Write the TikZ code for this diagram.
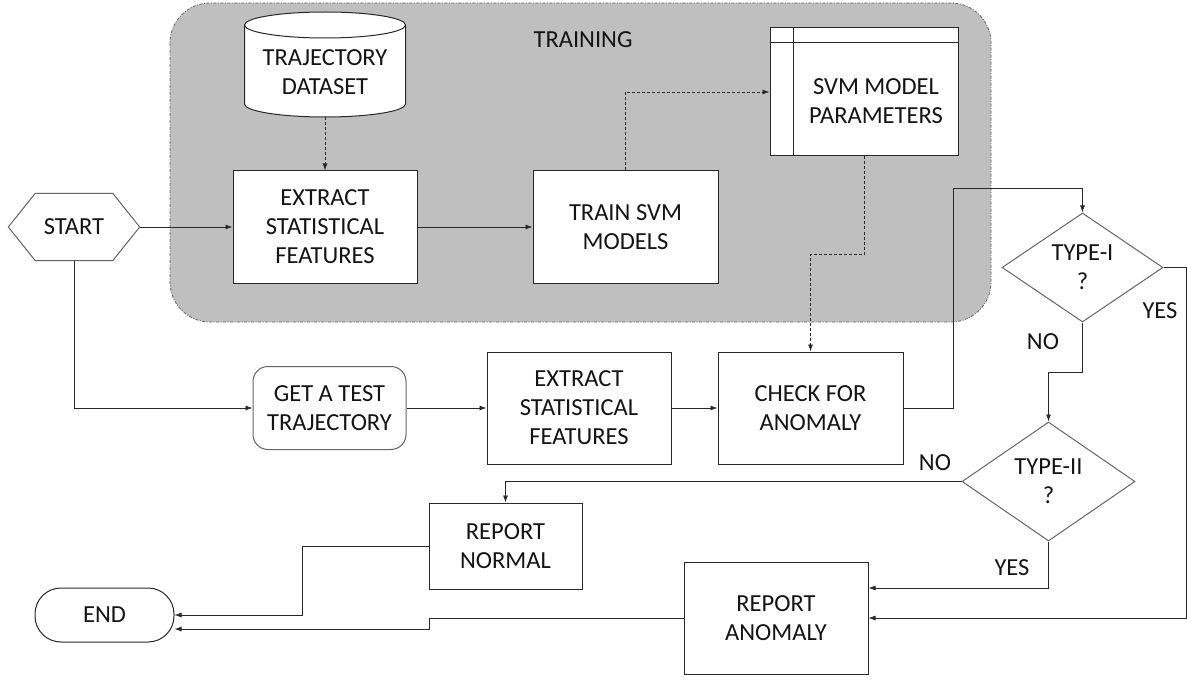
\documentclass[tikz,border=0pt]{standalone}
\usepackage{fontspec}
\setmainfont{Carlito}
\usetikzlibrary{arrows.meta,shapes.geometric}
\definecolor{traingray}{RGB}{191,191,191}
\definecolor{linec}{RGB}{40,40,40}
\definecolor{dgray}{RGB}{100,100,100}
\tikzset{
  lbl/.style={font=\fontsize{24.5}{29}\selectfont, text=black!92, align=center, inner sep=0pt},
  box/.style={lbl, draw=linec, line width=1pt, fill=white, rectangle},
  dia/.style={lbl, draw=dgray, line width=1pt, fill=white, diamond, aspect=1.45, inner sep=0pt},
  arr/.style={draw=linec, line width=0.8pt, -{Latex[length=7pt,width=5pt]}},
  darr/.style={arr, dash pattern=on 3pt off 2pt},
  plain/.style={draw=linec, line width=0.8pt},
}
\begin{document}
\begin{tikzpicture}[x=1pt,y=1pt]
\useasboundingbox (0,0) rectangle (1187,-682);
% training region
\draw[fill=traingray, draw=dgray, line width=0.8pt, rounded corners=40pt,
  dash pattern=on 3pt off 1.5pt on 1pt off 1.5pt] (170,-3) rectangle (991,-322);
\node[lbl] (trn) at (583,-40) {TRAINING};
% cylinder
\draw[fill=white, draw=linec, line width=1pt] (244.5,-25) -- (244.5,-104)
  arc[start angle=180, end angle=360, x radius=80.5, y radius=13] -- (405.5,-25)
  arc[start angle=0, end angle=180, x radius=80.5, y radius=13] -- cycle;
\draw[draw=linec, line width=1pt] (244.5,-25) arc[start angle=180, end angle=360, x radius=80.5, y radius=13];
\node[lbl, minimum width=161pt, minimum height=89pt] (ds) at (325,-72.5) {TRAJECTORY\\DATASET};
% SVM parameters
\node[box, minimum width=188pt, minimum height=128pt] (svm) at (864,-92) {};
\draw[draw=linec, line width=1pt] ([yshift=-15pt]svm.north west) -- ([yshift=-15pt]svm.north east);
\draw[draw=linec, line width=1pt] ([xshift=24pt]svm.north west) -- ([xshift=24pt]svm.south west);
\node[lbl] (svmt) at (876,-101) {SVM MODEL\\PARAMETERS};
% start
\node[lbl, minimum width=131pt, minimum height=67pt] (start) at (74,-227) {};
\draw[draw=dgray, line width=1pt, fill=white] (start.west) -- ([xshift=27pt]start.north west)
  -- ([xshift=-27pt]start.north east) -- (start.east) -- ([xshift=-27pt]start.south east)
  -- ([xshift=27pt]start.south west) -- cycle;
\node[lbl] (startt) at (start) {START};
% boxes
\node[box, minimum width=184pt, minimum height=112pt] (ex1) at (325,-227) {EXTRACT\\STATISTICAL\\FEATURES};
\node[box, minimum width=185pt, minimum height=112pt] (tr) at (625.5,-227) {TRAIN SVM\\MODELS};
\node[box, draw=dgray, rounded corners=15pt, minimum width=153pt, minimum height=83pt] (get) at (329.5,-408) {GET A TEST\\TRAJECTORY};
\node[box, minimum width=184pt, minimum height=112pt] (ex2) at (579,-408) {EXTRACT\\STATISTICAL\\FEATURES};
\node[box, minimum width=185pt, minimum height=112pt] (chk) at (810.5,-408) {CHECK FOR\\ANOMALY};
\node[dia, minimum width=161pt, minimum height=109pt] (t1) at (1082.5,-267.5) {TYPE-I\\?};
\node[dia, minimum width=173pt, minimum height=119pt] (t2) at (1048.5,-481.5) {TYPE-II\\?};
\node[box, minimum width=153pt, minimum height=86pt] (rn) at (505.5,-546) {REPORT\\NORMAL};
\node[box, minimum width=184pt, minimum height=112pt] (ra) at (776,-618) {REPORT\\ANOMALY};
\node[box, rounded corners=26pt, minimum width=139pt, minimum height=54pt] (end) at (104.5,-615) {END};
% coordinates
\coordinate (c1) at (953,-188);
\coordinate (c2) at (1186,-618);
\coordinate (c3) at (1082.5,-372);
\coordinate (c4) at (302,-615);
\coordinate (c5) at (429,-629);
\coordinate (c6) at (864,-254);
% connectors
\draw[arr] (start.east) -- (ex1.west);
\draw[arr] (ex1.east) -- (tr.west);
\draw[darr] (ds.south) -- (ex1.north);
\draw[darr] (tr.north) |- (svm.west);
\draw[darr] (svm.south) -- (c6) -| (chk.north);
\draw[arr] (start.south) |- (get.west);
\draw[arr] (get.east) -- (ex2.west);
\draw[arr] (ex2.east) -- (chk.west);
\draw[arr] (chk.east) -| (c1) -| (t1.north);
\draw[arr] (t1.east) -| (c2) -- (ra.east);
\draw[arr] (t1.south) -- (c3) -| (t2.north);
\draw[arr] (t2.west) -| (rn.north);
\draw[arr] (t2.south) |- ([yshift=30pt]ra.east);
\draw[arr] (rn.west) -| (c4) -- (end.east);
\draw[arr] (ra.west) -| (c5) -- ([yshift=-14pt]end.east);
% labels
\node[lbl] (yes1) at (1160,-311) {YES};
\node[lbl] (no1) at (1043,-342) {NO};
\node[lbl] (no2) at (935,-463) {NO};
\node[lbl] (yes2) at (1012,-568) {YES};
\end{tikzpicture}
\end{document}
